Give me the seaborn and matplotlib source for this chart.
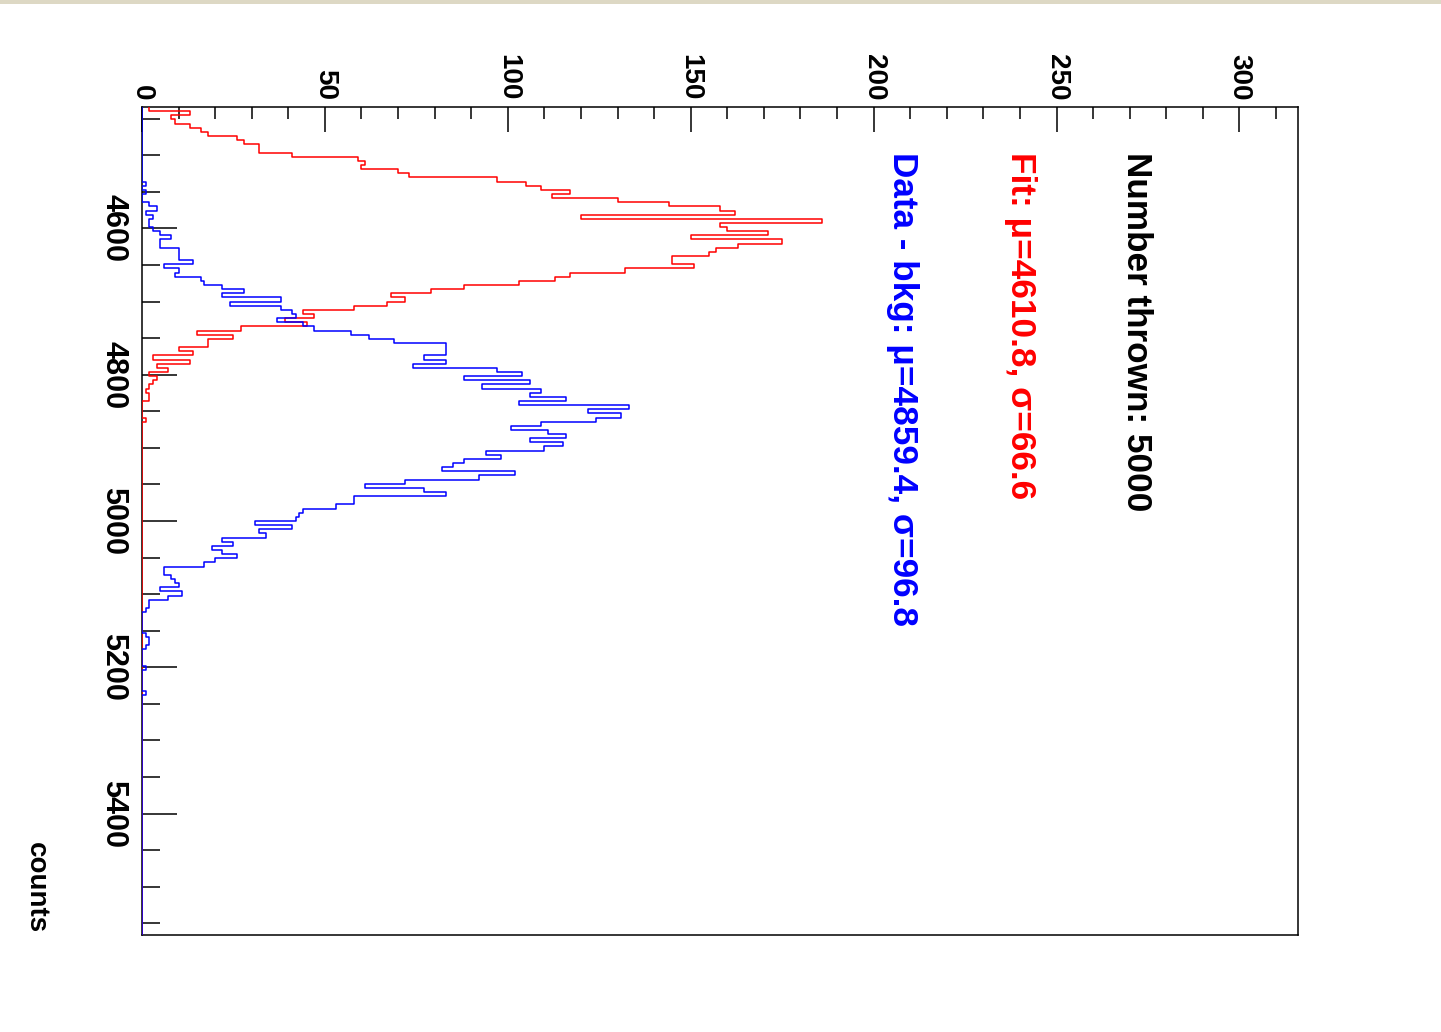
import numpy as np
import pandas as pd
import matplotlib
matplotlib.use("Agg")
import matplotlib.pyplot as plt
import seaborn as sns
from matplotlib.ticker import MultipleLocator
from matplotlib.patches import Rectangle

# ---------------- data ----------------
mass_lo, mass_hi, n_bins = 4434.0, 5566.0, 200

red_counts = [2, 13, 8, 9, 13, 16, 18, 26, 28, 32,
              32, 41, 59, 61, 60, 70, 73, 97, 105, 109,
              117, 112, 130, 144, 158, 162, 120, 186, 158, 160,
              171, 150, 175, 163, 157, 155, 145, 145, 151, 132,
              117, 113, 103, 88, 79, 68, 72, 67, 58, 44,
              47, 39, 45, 27, 15, 25, 18, 18, 10, 14,
              3, 13, 4, 7, 2, 4, 3, 2, 1, 2,
              2, 0, 0, 0, 0, 1]
red_counts = red_counts + [0] * (n_bins - len(red_counts))

blue_counts = [0] * 18 + [
    1, 0, 1, 0, 0, 2, 4, 1, 3, 2,
    2, 3, 5, 8, 5, 5, 10, 10, 10, 14,
    6, 10, 9, 16, 17, 22, 28, 22, 38, 24,
    38, 41, 42, 37, 44, 47, 57, 62, 69, 83,
    83, 83, 77, 83, 74, 97, 104, 88, 106, 93,
    109, 106, 116, 103, 133, 122, 131, 124, 109, 101,
    111, 116, 106, 115, 110, 94, 98, 88, 85, 82,
    102, 92, 72, 61, 77, 83, 58, 58, 53, 44,
    43, 42, 31, 41, 32, 34, 22, 25, 19, 22,
    26, 20, 17, 6, 6, 8, 9, 10, 5, 11,
    7, 2, 2, 1, 0, 0, 0, 0, 0, 1,
    2, 2, 1, 0, 0, 0, 0, 1, 0, 0,
    0, 0, 0, 1]
blue_counts = blue_counts + [0] * (n_bins - len(blue_counts))

text_thrown = "Number thrown: 5000"
text_fit = "Fit: μ=4610.8, σ=66.6"
text_data = "Data - bkg: μ=4859.4, σ=96.8"
axis_title = "counts"

# ---------------- style ----------------
sns.set_theme(style="white")
plt.rcParams['font.family'] = ['Liberation Sans', 'DejaVu Sans']
plt.rcParams['font.weight'] = 'bold'

edges = np.linspace(mass_lo, mass_hi, n_bins + 1)
centers = 0.5 * (edges[:-1] + edges[1:])
df = pd.DataFrame({'mass': centers,
                   'fit': np.asarray(red_counts, dtype=float),
                   'data': np.asarray(blue_counts, dtype=float)})

W, H = 1441, 1032
fig = plt.figure(figsize=(W / 100, H / 100), dpi=100)
fig.patch.set_facecolor('white')
ax = fig.add_axes([142 / W, 97 / H, 1156 / W, 828 / H])
ax.set_facecolor('white')

sns.histplot(data=df, y='mass', weights='fit', bins=n_bins,
             binrange=(mass_lo, mass_hi), element='step',
             fill=False, color='#ff0000', linewidth=1.1, ax=ax, zorder=3)
sns.histplot(data=df, y='mass', weights='data', bins=n_bins,
             binrange=(mass_lo, mass_hi), element='step',
             fill=False, color='#0000ff', linewidth=1.1, ax=ax, zorder=4)

ax.set_xlim(0, 316)
ax.set_ylim(mass_hi, mass_lo)
ax.set_ylabel('')

for s in ax.spines.values():
    s.set_visible(True)
    s.set_color('black')
    s.set_linewidth(1.1)

ax.xaxis.set_major_locator(MultipleLocator(50))
ax.xaxis.set_minor_locator(MultipleLocator(10))
ax.yaxis.set_major_locator(MultipleLocator(200))
ax.yaxis.set_minor_locator(MultipleLocator(50))

ax.xaxis.tick_top()
ax.tick_params(axis='x', which='both', top=True, bottom=False, labeltop=True,
               labelbottom=False, direction='in', width=1.1, color='black')
ax.tick_params(axis='x', which='major', length=18, pad=5, labelsize=20,
               labelrotation=-90, labelcolor='black')
ax.tick_params(axis='x', which='minor', length=8.6)
ax.tick_params(axis='y', which='both', left=True, right=False, direction='in',
               width=1.1, color='black')
ax.tick_params(axis='y', which='major', length=25, pad=10, labelsize=22,
               labelrotation=-90, labelcolor='black')
ax.tick_params(axis='y', which='minor', length=13)
for lab in ax.get_xticklabels():
    lab.set_ha('center')
    lab.set_va('bottom')
    lab.set_fontweight('bold')
for lab in ax.get_yticklabels():
    lab.set_ha('right')
    lab.set_va('center')
    lab.set_fontweight('bold')

ax.set_xlabel(axis_title, rotation=-90, rotation_mode='anchor', ha='right',
              va='baseline', fontsize=20, fontweight='bold', color='black')
ax.xaxis.set_label_coords(-0.0978, 0.0024)

common = dict(transform=ax.transAxes, rotation=-90, rotation_mode='anchor',
              ha='left', va='baseline', fontsize=25.3, fontweight='bold')
ax.text(0.852, 0.9457, text_thrown, color='black', **common)
ax.text(0.7517, 0.9457, text_fit, color='#ff0000', **common)
ax.text(0.6497, 0.9457, text_data, color='#0000ff', **common)

fig.patches.append(Rectangle((0, 1 - 4 / H), 1, 4 / H, transform=fig.transFigure,
                             facecolor='#ddd8c4', edgecolor='none'))

fig.savefig('out.png', dpi=100)
